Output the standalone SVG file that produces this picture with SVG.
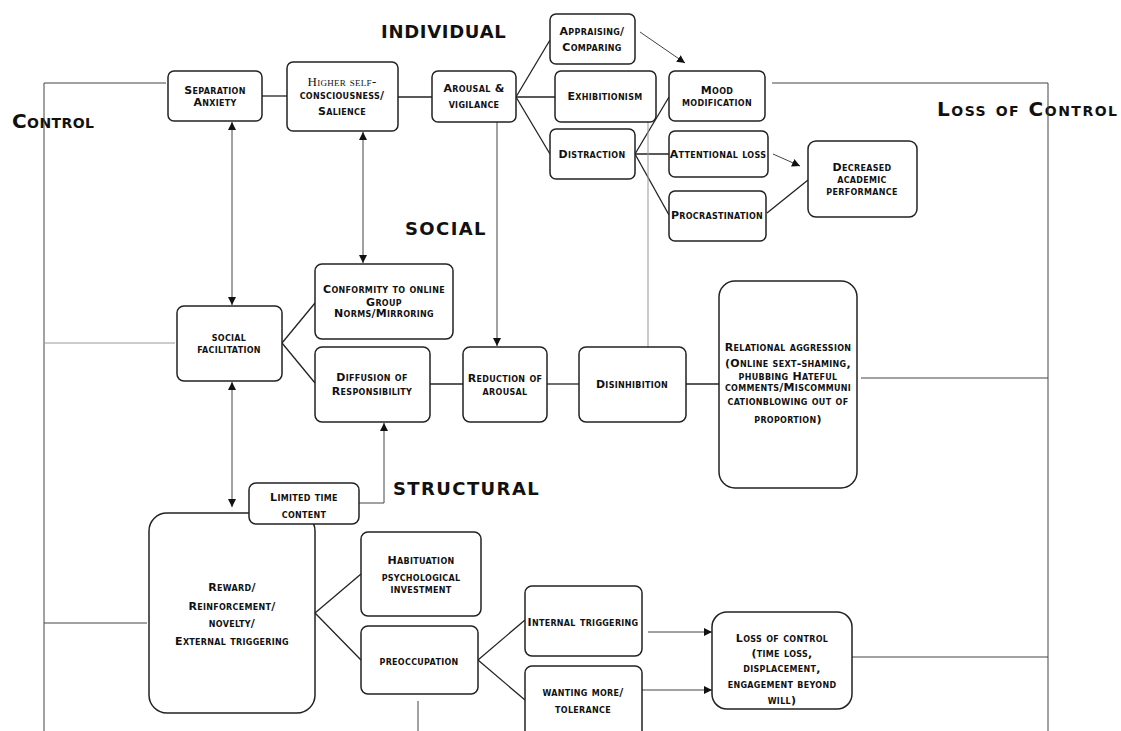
<svg xmlns="http://www.w3.org/2000/svg" width="1121" height="731" viewBox="0 0 1121 731">
<style>
.box{fill:#fff;stroke:#222;stroke-width:1.5}
.t{font-family:"DejaVu Sans",sans-serif;font-weight:bold;font-size:11px;font-variant:small-caps;text-anchor:middle;fill:#111;letter-spacing:0.3px}
.s{font-family:"Liberation Serif",serif;font-weight:normal;font-size:13px;letter-spacing:0.3px}
.ttl{font-family:"DejaVu Sans",sans-serif;font-weight:bold;font-size:20px;font-variant:small-caps;fill:#111}
.hd{font-family:"DejaVu Sans",sans-serif;font-weight:bold;font-size:18px;fill:#111}
.c{fill:none;stroke:#222;stroke-width:1.3}
.g{fill:none;stroke:#444;stroke-width:1}
.lg{fill:none;stroke:#999;stroke-width:1}
</style>
<defs>
<marker id="ah" viewBox="0 0 10 10" refX="10" refY="5" markerWidth="8" markerHeight="8" markerUnits="userSpaceOnUse" orient="auto-start-reverse">
<path d="M0,0 L10,5 L0,10 z" fill="#111"/>
</marker>
</defs>
<rect width="1121" height="731" fill="#fff"/>

<text class="ttl" x="12" y="128" style="letter-spacing:0.4px">Control</text>
<text class="ttl" x="937" y="116" style="letter-spacing:1.5px">Loss of Control</text>
<text class="hd" x="381" y="38" style="letter-spacing:0.7px">INDIVIDUAL</text>
<text class="hd" x="405" y="235" style="letter-spacing:1.4px">SOCIAL</text>
<text class="hd" x="393" y="495" style="letter-spacing:1.4px">STRUCTURAL</text>

<g id="connectors">
<path class="g" d="M166,83 H44 V731"/>
<path class="g" d="M772,83 H1048 V731"/>
<path class="lg" d="M44,343 H175"/>
<path class="g" d="M44,623 H147"/>
<path class="g" d="M861,378 H1048"/>
<path class="g" d="M852,657 H1048"/>
<path class="c" d="M262,96 H287"/>
<path class="c" d="M398,97 H432"/>
<path class="c" d="M516,97 L550,40"/>
<path class="c" d="M516,97 H555"/>
<path class="c" d="M516,97 L550,154"/>
<path class="c" d="M635,154 L669,97"/>
<path class="c" d="M635,154 H669"/>
<path class="c" d="M635,154 L669,215"/>
<path class="g" d="M640,32 L685,63" marker-end="url(#ah)"/>
<path class="g" d="M773,154 L800,166" marker-end="url(#ah)"/>
<path class="c" d="M767,213 L808,180"/>
<path class="g" d="M232,122 V305" marker-start="url(#ah)" marker-end="url(#ah)"/>
<path class="g" d="M363,132 V263" marker-start="url(#ah)" marker-end="url(#ah)"/>
<path class="g" d="M497,122 V346" marker-end="url(#ah)"/>
<path class="lg" d="M648,122 V348"/>
<path class="c" d="M282,343 L315,303"/>
<path class="c" d="M282,343 L315,383"/>
<path class="c" d="M430,384 H463"/>
<path class="c" d="M547,384 H579"/>
<path class="c" d="M686,384 H719"/>
<path class="g" d="M232,382 V507" marker-start="url(#ah)" marker-end="url(#ah)"/>
<path class="g" d="M359,503 H384 V423" marker-end="url(#ah)"/>
<path class="c" d="M315,613 L361,574"/>
<path class="c" d="M315,613 L361,660"/>
<path class="c" d="M478,660 L525,620"/>
<path class="c" d="M478,660 L525,700"/>
<path class="g" d="M648,632 H712" marker-end="url(#ah)"/>
<path class="g" d="M642,690 H712" marker-end="url(#ah)"/>
<path class="g" d="M418,701 V731"/>
</g>

<g id="separation-anxiety">
<rect class="box" x="168" y="71" width="94" height="50" rx="6"/>
<text class="t" x="215" y="94">Separation</text>
<text class="t" x="215" y="106">Anxiety</text>
</g>
<g id="higher-self">
<rect class="box" x="287" y="62" width="111" height="69" rx="6"/>
<text class="t s" x="342" y="86">Higher self-</text>
<text class="t" x="342" y="99">consciousness/</text>
<text class="t" x="342" y="115">Salience</text>
</g>
<g id="arousal">
<rect class="box" x="432" y="71" width="84" height="51" rx="6"/>
<text class="t" x="474" y="92">Arousal &amp;</text>
<text class="t" x="474" y="108">vigilance</text>
</g>
<g id="appraising">
<rect class="box" x="550" y="14" width="85" height="50" rx="6"/>
<text class="t" x="592" y="35">Appraising/</text>
<text class="t" x="592" y="51">Comparing</text>
</g>
<g id="exhibitionism">
<rect class="box" x="555" y="71" width="101" height="51" rx="6"/>
<text class="t" x="605" y="100">Exhibitionism</text>
</g>
<g id="distraction">
<rect class="box" x="550" y="129" width="85" height="50" rx="6"/>
<text class="t" x="592" y="158">Distraction</text>
</g>
<g id="mood-modification">
<rect class="box" x="669" y="71" width="96" height="50" rx="6"/>
<text class="t" x="717" y="94">Mood</text>
<text class="t" x="717" y="106">modification</text>
</g>
<g id="attentional-loss">
<rect class="box" x="669" y="131" width="99" height="46" rx="6"/>
<text class="t" x="718" y="158">Attentional loss</text>
</g>
<g id="procrastination">
<rect class="box" x="669" y="191" width="97" height="50" rx="6"/>
<text class="t" x="717" y="219">Procrastination</text>
</g>
<g id="decreased-academic">
<rect class="box" x="808" y="141" width="109" height="76" rx="8"/>
<text class="t" x="862" y="171">Decreased</text>
<text class="t" x="862" y="183">academic</text>
<text class="t" x="862" y="195">performance</text>
</g>
<g id="conformity">
<rect class="box" x="315" y="264" width="138" height="75" rx="7"/>
<text class="t" x="384" y="293">Conformity to online</text>
<text class="t" x="384" y="306">Group</text>
<text class="t" x="384" y="317">Norms/Mirroring</text>
</g>
<g id="social-facilitation">
<rect class="box" x="177" y="306" width="105" height="75" rx="7"/>
<text class="t" x="229" y="341">social</text>
<text class="t" x="229" y="353">facilitation</text>
</g>
<g id="diffusion">
<rect class="box" x="315" y="347" width="115" height="75" rx="7"/>
<text class="t" x="372" y="381">Diffusion of</text>
<text class="t" x="372" y="395">Responsibility</text>
</g>
<g id="reduction-arousal">
<rect class="box" x="463" y="347" width="84" height="75" rx="7"/>
<text class="t" x="505" y="382">Reduction of</text>
<text class="t" x="505" y="395">arousal</text>
</g>
<g id="disinhibition">
<rect class="box" x="579" y="347" width="107" height="75" rx="7"/>
<text class="t" x="632" y="388">Disinhibition</text>
</g>
<g id="relational-aggression">
<rect class="box" x="719" y="281" width="138" height="207" rx="16"/>
<text class="t" x="788" y="351">Relational aggression</text>
<text class="t" x="788" y="367">(Online sext-shaming,</text>
<text class="t" x="788" y="380">phubbing Hateful</text>
<text class="t" x="788" y="391">comments/Miscommuni</text>
<text class="t" x="788" y="405">cationblowing out of</text>
<text class="t" x="788" y="423">proportion)</text>
</g>
<g id="reward">
<rect class="box" x="149" y="513" width="166" height="200" rx="18"/>
<text class="t" x="232" y="591">Reward/</text>
<text class="t" x="232" y="610">Reinforcement/</text>
<text class="t" x="232" y="627">novelty/</text>
<text class="t" x="232" y="645">External triggering</text>
</g>
<g id="limited-time">
<rect class="box" x="249" y="483" width="110" height="41" rx="7"/>
<text class="t" x="304" y="501">Limited time</text>
<text class="t" x="304" y="518">content</text>
</g>
<g id="habituation">
<rect class="box" x="361" y="532" width="120" height="84" rx="7"/>
<text class="t" x="421" y="564">Habituation</text>
<text class="t" x="421" y="581">psychological</text>
<text class="t" x="421" y="593">investment</text>
</g>
<g id="preoccupation">
<rect class="box" x="361" y="626" width="117" height="68" rx="7"/>
<text class="t" x="419" y="665">preoccupation</text>
</g>
<g id="internal-triggering">
<rect class="box" x="525" y="586" width="117" height="70" rx="7"/>
<text class="t" x="583" y="626">Internal triggering</text>
</g>
<g id="wanting-more">
<rect class="box" x="525" y="666" width="117" height="80" rx="7"/>
<text class="t" x="583" y="696">wanting more/</text>
<text class="t" x="583" y="713">tolerance</text>
</g>
<g id="loss-of-control">
<rect class="box" x="712" y="612" width="140" height="97" rx="15"/>
<text class="t" x="782" y="642">Loss of control</text>
<text class="t" x="782" y="657">(time loss,</text>
<text class="t" x="782" y="672">displacement,</text>
<text class="t" x="782" y="688">engagement beyond</text>
<text class="t" x="782" y="704">will)</text>
</g>
</svg>
